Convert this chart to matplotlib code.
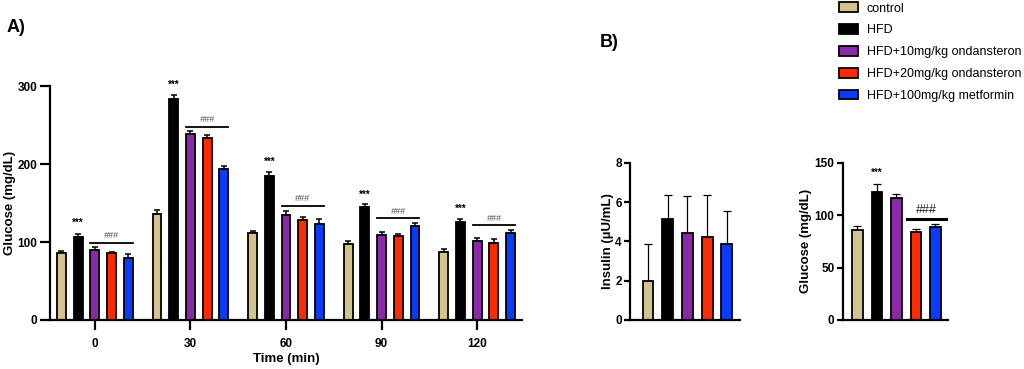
import matplotlib
matplotlib.use("Agg")
import matplotlib.pyplot as plt
from matplotlib.patches import Patch
import numpy as np

plt.rcParams['font.family'] = ['Liberation Sans', 'DejaVu Sans']

groups = ["control", "HFD", "HFD+10mg/kg ondansteron", "HFD+20mg/kg ondansteron", "HFD+100mg/kg metformin"]
colors = ["#D3C48F", "#000000", "#8B2AA8", "#FF2A00", "#0A3CFF"]

times = ["0", "30", "60", "90", "120"]
# Panel A: glucose (mg/dL) per group, per time point
gA_control = [85.5, 136, 111.5, 97.5, 87.5]
gA_hfd = [106, 284, 185, 145, 125.5]
gA_ond10 = [90, 239, 134.5, 109, 101]
gA_ond20 = [86, 234, 128, 108, 99]
gA_met = [80, 194, 123, 120, 111]
eA_control = [3, 5.5, 3, 4.3, 3.4]
eA_hfd = [4, 5, 5, 4.3, 4]
eA_ond10 = [3, 4, 5, 4, 4]
eA_ond20 = [1.5, 3.4, 4, 2.5, 5]
eA_met = [5, 3.4, 6, 4.3, 4]
starsA_y = [124, 301, 203, 161, 143]
hashA_line_y = [99, 248, 146.5, 131, 122]

# Panel B: insulin (uU/mL)
insulin = [1.98, 5.13, 4.42, 4.24, 3.88]
insulin_err = [1.87, 1.22, 1.9, 2.12, 1.66]
# Panel B: fasting glucose (mg/dL)
glucB = [85.8, 122.3, 116, 83.6, 89]
glucB_err = [3.8, 7.3, 4, 3.1, 2.2]

fig = plt.figure(figsize=(10.24, 3.69), dpi=100)

def style_axes(ax, ticklen):
    for s in ["top", "right"]:
        ax.spines[s].set_visible(False)
    for s in ["left", "bottom"]:
        ax.spines[s].set_linewidth(1.6)
    ax.tick_params(axis='both', width=1.6, length=ticklen, labelsize=8.5, pad=2)
    for lab in ax.get_yticklabels() + ax.get_xticklabels():
        lab.set_fontweight('bold')

# ---------- Panel A ----------
axA = fig.add_axes([0.0488, 0.1328, 0.461, 0.634])
seriesA = [gA_control, gA_hfd, gA_ond10, gA_ond20, gA_met]
errsA = [eA_control, eA_hfd, eA_ond10, eA_ond20, eA_met]
x = np.arange(len(times))
step = 0.175
wA = 0.092
for i, (vals, errs) in enumerate(zip(seriesA, errsA)):
    pos = x + (i - 2) * step
    axA.bar(pos, vals, width=wA, color=colors[i], edgecolor='black', linewidth=1.3, zorder=2)
    axA.errorbar(pos, vals, yerr=[np.zeros(len(vals)), errs], fmt='none', ecolor='black',
                 elinewidth=1.1, capsize=2.5, capthick=1.1, zorder=1)
for j in range(len(times)):
    axA.text(x[j] - step, starsA_y[j], "***", ha='center', va='center', fontsize=7, fontweight='bold')
    x0 = x[j] - wA / 2
    x1 = x[j] + 2 * step + wA / 2
    axA.plot([x0, x1], [hashA_line_y[j]] * 2, color='black', lw=1.3)
    axA.text((x0 + x1) / 2, hashA_line_y[j] + 3, "###", ha='center', va='bottom',
             fontsize=6.5, color='#555555', style='italic')
axA.set_xlim(-0.47, 4.47)
axA.set_ylim(0, 300)
axA.set_yticks([0, 100, 200, 300])
axA.set_xticks(x)
axA.set_xticklabels(times)
style_axes(axA, 7)
axA.tick_params(axis='x', pad=6)
axA.set_ylabel("Glucose (mg/dL)", fontsize=9.5, fontweight='bold', labelpad=1)
axA.set_xlabel("Time (min)", fontsize=9.5, fontweight='bold', labelpad=2)

# ---------- Panel B1: insulin ----------
axB1 = fig.add_axes([0.6152, 0.1328, 0.1074, 0.4263])
xb = np.arange(len(groups))
axB1.bar(xb, insulin, width=0.55, color=colors, edgecolor='black', linewidth=1.3, zorder=2)
axB1.errorbar(xb, insulin, yerr=[np.zeros(5), insulin_err], fmt='none', ecolor='black',
              elinewidth=0.9, capsize=3, capthick=0.9, zorder=1)
axB1.set_xlim(-0.91, 4.66)
axB1.set_ylim(0, 8)
axB1.set_yticks([0, 2, 4, 6, 8])
axB1.set_xticks([])
style_axes(axB1, 4)
axB1.set_ylabel("Insulin (\u00b5U/mL)", fontsize=9.5, fontweight='bold', labelpad=1)

# ---------- Panel B2: glucose ----------
axB2 = fig.add_axes([0.8232, 0.1328, 0.1025, 0.4263])
axB2.bar(xb, glucB, width=0.55, color=colors, edgecolor='black', linewidth=1.3, zorder=2)
axB2.errorbar(xb, glucB, yerr=[np.zeros(5), glucB_err], fmt='none', ecolor='black',
              elinewidth=0.9, capsize=3, capthick=0.9, zorder=1)
axB2.text(1, 140, "***", ha='center', va='center', fontsize=7, fontweight='bold')
axB2.plot([2.55, 4.55], [96, 96], color='black', lw=2.2)
axB2.text(3.55, 99, "###", ha='center', va='bottom', fontsize=9, color='#222222')
axB2.set_xlim(-0.74, 4.64)
axB2.set_ylim(0, 150)
axB2.set_yticks([0, 50, 100, 150])
axB2.set_xticks([])
style_axes(axB2, 4)
axB2.set_ylabel("Glucose (mg/dL)", fontsize=9.5, fontweight='bold', labelpad=2)

# Panel labels
fig.text(0.006, 0.925, "A)", fontsize=13, fontweight='bold', va='center')
fig.text(0.586, 0.885, "B)", fontsize=13, fontweight='bold', va='center')

# Legend
handles = [Patch(facecolor=c, edgecolor='black', linewidth=1.3) for c in colors]
fig.legend(handles, groups, loc='upper left', bbox_to_anchor=(0.808, 1.024), frameon=False,
           fontsize=9.0, handlelength=1.55, handleheight=0.8, labelspacing=0.78, handletextpad=0.7)

fig.savefig("out.png", dpi=100)
